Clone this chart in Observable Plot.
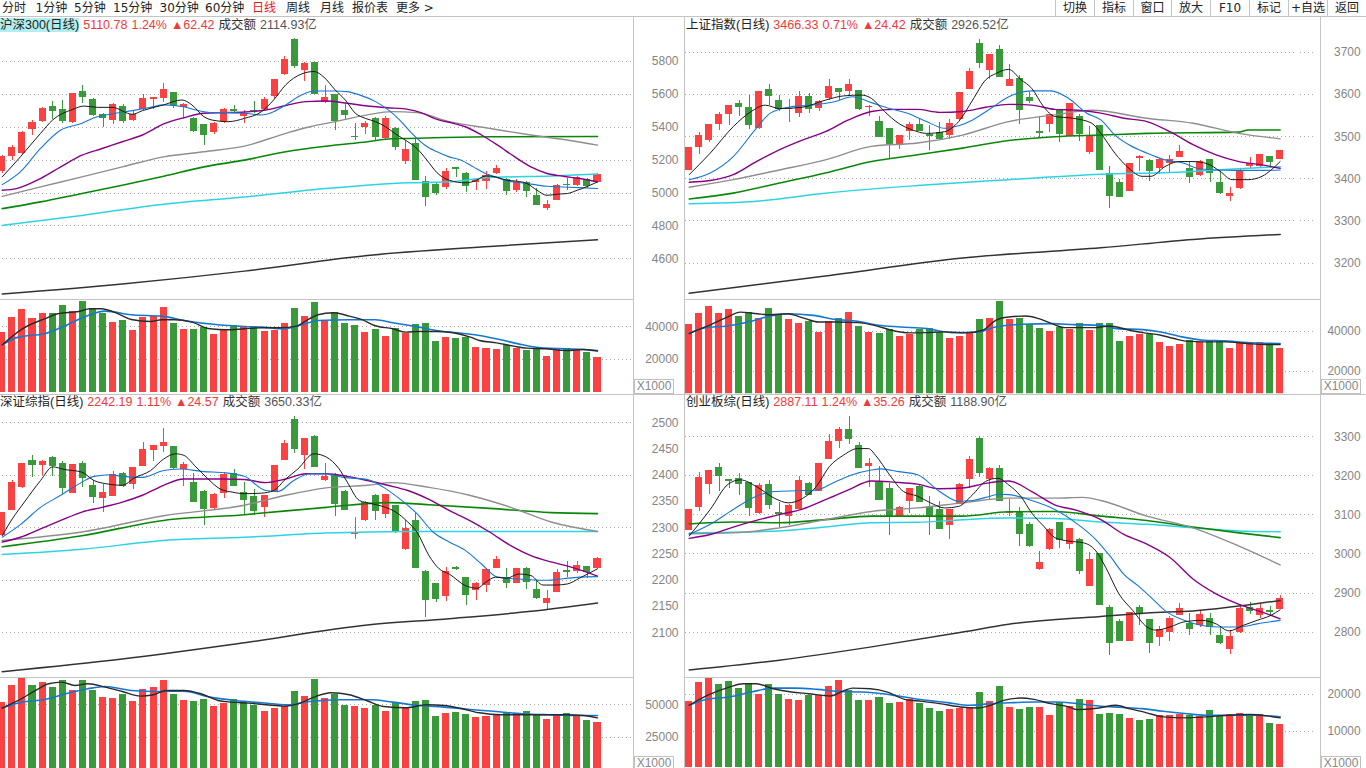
<!DOCTYPE html>
<html><head><meta charset="utf-8">
<script src="https://cdn.jsdelivr.net/npm/d3@7"></script>
<script src="https://cdn.jsdelivr.net/npm/@observablehq/plot@0.6"></script>
<style>
html,body{margin:0;padding:0;background:#fff;}
body{width:1366px;height:768px;overflow:hidden;position:relative;font-family:"DejaVu Sans","Noto Sans CJK SC",sans-serif;}
.t{position:absolute;font-size:12px;line-height:14px;white-space:nowrap;color:#222;}
.hd{position:absolute;font-size:12.5px;line-height:15px;white-space:nowrap;font-family:"Liberation Sans","Noto Sans CJK SC",sans-serif;}
.hd span{margin-right:4px;}
.ln{position:absolute;background:#c4c4c4;}
.btn{position:absolute;top:0;height:16px;font-size:12px;line-height:16px;text-align:center;color:#222;}
.xk{position:absolute;width:38px;height:13px;border:1px solid #c0c0c0;font:12px/13px "Liberation Sans",Arial,sans-serif;color:#888;text-align:center;background:#fff;}
.wrap{position:absolute;}
</style></head><body>
<script>
// ---------------- data ----------------
const TITLES = ["沪深300(日线)","上证指数(日线)","深证综指(日线)","创业板综(日线)"];
const PRICES = ["5110.78","3466.33","2242.19","2887.11"];
const PCTS = ["1.24%","0.71%","1.11%","1.24%"];
const CHANGES = ["▲62.42","▲24.42","▲24.57","▲35.26"];
const AMOUNT_LABEL = "成交额";
const AMOUNTS = ["2114.93亿","2926.52亿","3650.33亿","1188.90亿"];
const TOOLBAR = ["分时","1分钟","5分钟","15分钟","30分钟","60分钟","日线","周线","月线","报价表","更多 >"];
const BUTTONS = ["切换","指标","窗口","放大","F10","标记","+自选","返回"];
const UNIT = "X1000";

// 沪深300
const hsOpen = [5129,5220,5241,5389,5434,5529,5509,5428,5617,5566,5475,5444,5529,5444,5505,5566,5572,5611,5519,5454,5418,5369,5434,5509,5464,5501,5509,5590,5719,5932,5743,5794,5552,5597,5501,5346,5399,5454,5332,5393,5190,5302,5068,5054,5031,5157,5119,5064,5068,5119,5082,5013,5062,4986,4905,4956,5054,5047,5084,5064];
const hsHigh = [5230,5291,5377,5444,5519,5556,5562,5607,5652,5572,5485,5546,5536,5495,5597,5580,5668,5611,5546,5460,5418,5428,5515,5531,5501,5556,5580,5692,5831,5938,5794,5794,5652,5597,5536,5420,5434,5458,5464,5397,5312,5332,5098,5058,5149,5157,5123,5088,5129,5165,5088,5082,5068,5027,4956,5053,5088,5098,5088,5119];
const hsLow = [5119,5200,5237,5352,5430,5448,5420,5424,5546,5464,5399,5418,5420,5434,5501,5505,5550,5515,5460,5367,5292,5353,5424,5485,5424,5481,5501,5566,5713,5755,5678,5603,5546,5383,5450,5322,5353,5316,5326,5261,5176,5084,4919,4986,5021,5094,5001,5013,5023,5115,4986,5001,4972,4925,4891,4956,5017,5037,5027,5064];
const hsClose = [5220,5275,5371,5428,5515,5501,5444,5603,5586,5475,5460,5536,5444,5479,5572,5580,5631,5540,5536,5383,5357,5424,5505,5501,5481,5493,5570,5692,5814,5776,5788,5607,5580,5444,5475,5342,5424,5346,5454,5285,5267,5084,4976,5003,5133,5151,5043,5082,5108,5149,5013,5062,5013,4931,4931,5047,5050,5094,5048.36,5110.78];
const hsVol = [36734,45715,50613,45102,48164,48164,53062,49389,55512,51021,48164,42653,43878,37755,45715,46327,51838,42041,38367,38367,39592,35306,38367,40816,39592,40204,37143,37755,42041,51225,46327,54899,43266,48776,42041,40816,36530,38367,34081,38980,35918,41429,42041,31020,33469,32857,33469,27346,26734,26122,28571,26939,25510,26530,21837,26939,26530,25510,24285,21224];
const hsMa5 = [[0,5098],[1.8,5220],[3.8,5363],[5,5444],[7,5509],[8.1,5529],[9.5,5521],[10.9,5521],[12.9,5479],[13.9,5501],[16,5536],[17.8,5566],[18.8,5536],[20,5464],[20.8,5444],[22.4,5434],[24,5454],[25.7,5495],[26.9,5566],[28.1,5658],[29.7,5725],[30.9,5739],[31.9,5704],[33,5627],[34,5566],[35,5485],[36,5454],[37,5434],[38,5403],[39,5359],[40.2,5312],[41.1,5271],[42.1,5200],[43.1,5123],[44.3,5078],[45.9,5062],[46.9,5074],[47.9,5104],[48.9,5098],[50,5078],[51,5072],[52,5058],[53,5017],[54,4986],[55,4993],[56,4997],[57,5017],[58.1,5043],[59,5068]];
const hsMa10 = [[0,5051],[1.8,5129],[3.8,5271],[5.8,5383],[7.9,5424],[9.1,5458],[10.9,5481],[12.9,5501],[14.7,5521],[16,5536],[18,5525],[19.2,5505],[20.8,5489],[22.4,5489],[24,5485],[25.7,5475],[26.9,5495],[28.1,5536],[29.7,5597],[30.9,5621],[33,5621],[34.2,5617],[35.4,5597],[37,5556],[38.2,5509],[39.4,5444],[40.6,5363],[41.9,5291],[43.1,5251],[44.3,5220],[45.5,5200],[46.7,5159],[47.9,5119],[48.9,5098],[50,5074],[51.2,5064],[52.4,5054],[54,5041],[55.6,5037],[57.2,5033],[59,5027]];
const hsMa20 = [[0,5017],[1.4,5027],[3.8,5088],[5.8,5159],[7.9,5230],[9.9,5271],[11.9,5312],[13.9,5353],[16,5420],[18,5458],[20,5485],[22,5489],[24,5493],[26.1,5505],[28.1,5532],[30.1,5556],[32.1,5560],[34.2,5546],[36.2,5529],[38.2,5519],[40.2,5509],[41.5,5489],[43.1,5448],[44.7,5424],[45.9,5403],[47.5,5353],[49.1,5291],[50.8,5220],[52.4,5159],[54,5119],[55.6,5102],[57.2,5088],[59,5068]];
const hsMa30 = [[0,4980],[3.8,5037],[7.9,5098],[11.9,5159],[16,5220],[20,5251],[24,5285],[28.1,5363],[30.5,5403],[33,5434],[36.2,5475],[38.6,5495],[41.1,5489],[44.3,5434],[48.3,5393],[52.4,5353],[56.4,5318],[59,5291]];
const hsMa60 = [[0,4905],[3.8,4946],[7.9,4997],[11.9,5047],[16,5102],[20,5159],[24,5200],[28.1,5251],[32.1,5285],[36.2,5312],[38.6,5330],[40.2,5332],[48.3,5342],[59,5344]];
const hsMa120 = [[0,4803],[7.9,4864],[16,4932],[24,4976],[32.1,5027],[40.2,5062],[44.3,5068],[48.3,5094],[54.4,5104],[59,5115]];
const hsMa250 = [[0,4386],[11.9,4447],[24,4525],[36.2,4620],[48.3,4675],[59,4716]];
const hsVolMa5 = [[0,28979],[2,38775],[4.2,44898],[5.5,47960],[7.6,49389],[8.7,51021],[9.8,51021],[11.5,47960],[12.8,44490],[14.7,43266],[15.8,44286],[17.1,44286],[18.8,42857],[20.6,38775],[22.3,38163],[24,38775],[25.7,39388],[27.5,39388],[29.2,40408],[30,43266],[31.3,47348],[32.8,48572],[34.4,46531],[35.6,44490],[36.9,40816],[38.7,38775],[40,36734],[41.3,37143],[43,37143],[44.7,36326],[46.4,33673],[47.3,31632],[49,30203],[50.7,28163],[52,26939],[53.8,26530],[56,25510],[57.6,26122],[59,25102]];
const hsVolMa10 = [[0,28979],[1.6,33673],[4.2,35714],[6.3,40816],[8.5,46939],[10.2,49593],[12.8,47348],[15.8,46531],[18,43878],[21.4,41225],[24,40204],[25.7,39796],[27.9,38775],[30,41837],[31.3,43878],[34.4,44286],[37,44286],[38.7,42449],[41.3,39796],[43,37755],[45.1,36326],[47.3,34694],[49.4,32041],[51.6,28979],[53.8,26939],[56,26530],[59,25510]];

// 上证指数
const shOpen = [3420,3474,3492,3530,3552,3578,3570,3520,3612,3585,3565,3556,3595,3567,3591,3615,3607,3609,3570,3536,3520,3481,3512,3530,3505,3510,3504,3540,3613,3721,3657,3708,3619,3638,3593,3513,3530,3565,3500,3548,3462,3526,3413,3392,3370,3449,3443,3425,3436,3451,3425,3407,3445,3392,3357,3376,3429,3429,3453,3445];
const shHigh = [3475,3511,3528,3557,3575,3587,3597,3608,3623,3597,3589,3608,3603,3587,3636,3615,3636,3611,3575,3549,3520,3504,3533,3544,3526,3535,3542,3605,3662,3732,3696,3717,3672,3646,3606,3548,3552,3565,3578,3552,3524,3526,3429,3398,3436,3455,3445,3449,3455,3478,3439,3443,3445,3418,3380,3422,3451,3457,3453,3468];
const shLow = [3420,3457,3486,3515,3526,3548,3518,3518,3575,3560,3534,3545,3555,3559,3587,3587,3595,3563,3548,3498,3448,3470,3491,3516,3467,3494,3494,3536,3613,3662,3636,3642,3619,3530,3578,3499,3511,3486,3500,3489,3457,3421,3329,3356,3370,3417,3394,3410,3412,3451,3390,3405,3392,3363,3347,3374,3424,3425,3425,3445];
const shClose = [3474,3502,3528,3552,3575,3571,3530,3608,3599,3567,3567,3595,3567,3583,3620,3607,3624,3567,3573,3500,3483,3504,3530,3516,3504,3496,3532,3605,3656,3676,3696,3642,3637,3564,3586,3511,3552,3508,3578,3507,3502,3421,3361,3358,3436,3453,3420,3447,3445,3465,3406,3441,3414,3368,3365,3418,3437,3457,3441.91,3466.33];
const shVol = [43471,48926,52397,48926,50910,47438,49422,46447,51405,48430,45951,43967,44959,39504,44959,46447,49422,42480,39504,39008,40992,37521,38512,40992,41488,39504,36529,37521,39504,45951,46447,54877,45951,46447,43471,41488,40000,41984,40992,43967,40496,43967,43967,35041,37521,38512,38512,34545,32562,33553,35537,34545,35537,35537,31570,34049,34545,34545,33553,31570];
const shMa5 = [[0,3410],[2.1,3461],[4.4,3524],[6.2,3560],[7.6,3575],[9,3567],[11.3,3570],[13.6,3587],[15.4,3597],[17.2,3599],[18.2,3591],[19.5,3560],[20.9,3532],[22.3,3516],[23.7,3508],[25.5,3512],[26.9,3536],[28.3,3587],[29.6,3635],[30.6,3650],[31.9,3660],[33.1,3636],[34.2,3615],[35.4,3571],[36.5,3548],[38.3,3544],[40.2,3532],[41.1,3508],[42.5,3461],[43.9,3425],[45.2,3406],[46.1,3406],[47.5,3429],[48.9,3441],[50.3,3441],[51.7,3436],[53,3418],[54.2,3398],[55.8,3398],[57.2,3406],[58.1,3421],[59,3441]];
const shMa10 = [[0,3398],[2.1,3414],[4.4,3453],[6.7,3520],[8.1,3556],[9.9,3570],[12.2,3575],[14.5,3583],[16.3,3595],[18.2,3581],[20,3567],[21.8,3556],[23.7,3536],[25.5,3520],[26.9,3526],[28.3,3540],[30.1,3567],[31.9,3595],[34.2,3609],[36.1,3609],[37.9,3591],[39.7,3556],[41.1,3540],[42.5,3504],[43.9,3481],[45.7,3461],[47.5,3445],[49.4,3437],[50.7,3425],[52.6,3421],[54.4,3420],[56.7,3420],[59,3421]];
const shMa20 = [[0,3392],[2.1,3396],[4.4,3410],[6.7,3441],[9,3469],[11.3,3492],[13.6,3512],[15.9,3540],[18.2,3560],[20.5,3565],[22.8,3565],[25,3558],[27.3,3560],[29.6,3570],[31.9,3577],[34.2,3575],[36.5,3565],[38.8,3563],[41.1,3556],[43.4,3544],[45.7,3536],[48,3512],[50.3,3481],[52.6,3457],[54.9,3441],[57.2,3433],[59,3425]];
const shMa30 = [[0,3380],[4.4,3398],[9,3421],[13.6,3445],[18.2,3477],[22.8,3485],[27.3,3504],[31.9,3536],[36.5,3552],[40.2,3563],[45.7,3544],[50.3,3532],[54.9,3508],[59,3495]];
const shMa60 = [[0,3352],[4.4,3366],[9,3390],[13.6,3414],[18.2,3441],[22.8,3457],[27.3,3473],[31.9,3491],[36.5,3500],[41.1,3504],[45.7,3508],[54.9,3511],[55.8,3516],[59,3516]];
const shMa120 = [[0,3341],[6.7,3347],[13.6,3366],[22.8,3384],[31.9,3398],[41.1,3411],[48,3415],[54.9,3424],[59,3429]];
const shMa250 = [[0,3128],[13.6,3169],[27.3,3212],[41.1,3236],[50.3,3256],[59,3268]];
const shVolMa5 = [[0,38843],[1.6,42149],[3.8,47108],[5.1,49587],[6.8,48761],[8.1,48265],[9.8,48761],[11.6,46281],[12.9,44628],[14.6,44628],[16.8,44298],[18.5,42976],[20.2,40496],[22,39174],[23.7,39339],[25.4,39670],[27.6,39174],[29.3,40496],[30.6,45455],[31.9,47108],[33.6,47604],[34.9,46281],[36.2,43802],[37.5,41818],[38.8,41818],[40.6,41818],[41.9,42645],[42.7,42149],[44,40496],[45.3,39339],[47.1,38017],[48.4,36364],[49.7,35041],[51.4,34711],[53.5,34711],[55.7,33884],[57.4,33388],[59,33388]];
const shVolMa10 = [[0,38843],[1.6,41818],[3.8,42645],[5.9,44628],[8.1,47604],[9.8,48761],[12.4,47934],[14.6,45951],[16.8,44959],[18.9,42976],[21.1,42149],[23.7,41322],[26.3,39339],[28.9,39670],[30.6,42149],[33.2,43471],[36.2,43802],[38.4,43306],[41,42976],[42.7,41322],[45.3,40826],[47.1,39670],[49.2,37190],[51.4,35537],[53.5,35207],[55.7,34380],[59,33884]];

// 深证综指
const szOpen = [2285,2333,2377,2428,2419,2433,2422,2366,2422,2381,2355,2360,2403,2382,2416,2447,2454,2454,2412,2386,2369,2336,2366,2403,2368,2360,2339,2370,2428,2506,2438,2473,2390,2401,2369,2287,2314,2362,2325,2343,2259,2314,2216,2193,2170,2224,2206,2181,2190,2222,2206,2193,2223,2183,2155,2176,2219,2216,2226,2222];
const szHigh = [2329,2390,2422,2438,2428,2436,2426,2420,2426,2391,2382,2407,2405,2414,2463,2457,2489,2454,2425,2403,2371,2365,2405,2411,2386,2373,2362,2419,2466,2512,2470,2476,2422,2403,2371,2319,2350,2363,2363,2343,2314,2327,2219,2193,2225,2226,2206,2196,2223,2246,2223,2223,2225,2200,2181,2221,2235,2236,2226,2244];
const szLow = [2285,2333,2375,2395,2400,2398,2363,2366,2377,2346,2330,2360,2376,2373,2416,2426,2443,2411,2379,2350,2304,2333,2355,2381,2323,2323,2320,2368,2428,2441,2411,2417,2389,2322,2333,2278,2312,2314,2317,2289,2257,2225,2130,2158,2160,2219,2152,2162,2177,2222,2184,2193,2182,2163,2144,2176,2206,2213,2203,2222];
const szClose = [2329,2386,2422,2421,2426,2419,2376,2420,2395,2360,2367,2401,2381,2414,2449,2457,2463,2414,2421,2350,2336,2363,2402,2381,2354,2333,2362,2419,2460,2452,2470,2417,2397,2347,2335,2292,2349,2333,2363,2295,2299,2225,2163,2166,2217,2222,2173,2193,2220,2240,2195,2223,2198,2168,2165,2214,2217,2228,2217.62,2242.19];
const szVol = [52041,64796,70408,64796,67347,63265,68622,60969,68622,60969,55612,54847,57908,52551,61735,63265,68622,57908,53316,52551,54082,48724,51020,54082,52551,49490,44898,47194,48724,60204,56378,69388,54847,57908,49490,48724,47194,49490,44898,51020,47959,52551,53316,41071,43367,44133,42602,40306,41071,42602,43367,43367,44898,42602,38776,41837,43367,41837,38010,36480];
const szMa5 = [[0,2285],[1,2317],[2.2,2349],[3.8,2390],[5,2416],[6.2,2411],[7.9,2406],[9.1,2390],[10.3,2384],[11.9,2381],[13.1,2395],[14.7,2409],[16,2431],[17.2,2441],[18,2438],[19.2,2416],[20.4,2393],[21.6,2374],[22.8,2368],[24,2365],[25.7,2366],[26.9,2371],[28.1,2393],[29.3,2412],[30.9,2441],[32.1,2435],[33.4,2412],[34.2,2387],[35.4,2352],[36.6,2346],[38,2339],[39,2330],[40.2,2311],[41.1,2292],[42.3,2247],[43.3,2222],[44.3,2212],[45.9,2190],[47.1,2185],[47.9,2196],[48.9,2206],[50,2204],[51.2,2212],[52.4,2209],[53.6,2191],[54.8,2191],[56,2193],[57.2,2204],[59,2222]];
const szMa10 = [[0,2282],[1.8,2306],[3.8,2339],[5.8,2362],[7.9,2387],[9.1,2398],[10.7,2401],[11.9,2398],[13.9,2396],[16,2409],[17.6,2412],[20,2407],[22,2405],[24,2398],[26.1,2371],[27.3,2369],[28.9,2390],[30.5,2403],[32.1,2403],[33.8,2396],[36.2,2392],[37.8,2377],[39.4,2355],[41.1,2327],[42.7,2292],[44.3,2273],[45.9,2257],[47.5,2231],[49.1,2206],[50.8,2203],[52.4,2201],[54,2200],[55.6,2203],[57.2,2206],[59,2207]];
const szMa20 = [[0,2273],[1.8,2282],[3.8,2298],[5.8,2314],[7.9,2330],[9.9,2339],[11.9,2349],[13.9,2362],[16,2381],[18,2393],[20,2393],[22,2393],[24,2392],[26.1,2386],[28.1,2393],[30.1,2403],[32.1,2403],[34.2,2398],[36.2,2390],[38.2,2381],[40.2,2371],[42.3,2354],[44.3,2333],[46.3,2314],[48.3,2292],[50.4,2266],[52.4,2247],[54.4,2235],[56.4,2225],[59,2208]];
const szMa30 = [[0,2276],[7.9,2292],[16,2323],[24,2343],[28.1,2362],[32.1,2376],[36.2,2381],[38.6,2386],[42.3,2377],[46.3,2362],[50.4,2339],[54.4,2311],[59,2293]];
const szMa60 = [[0,2264],[7.9,2285],[16,2314],[24,2325],[32.1,2339],[38.2,2348],[42.3,2344],[48.3,2337],[54.4,2329],[59,2327]];
const szMa120 = [[0,2249],[7.9,2259],[16,2276],[24,2282],[32.1,2290],[40.2,2293],[59,2293]];
const szMa250 = [[0,2026],[11.9,2050],[24,2081],[36.2,2115],[44.3,2127],[52.4,2141],[59,2157]];
const szVolMa5 = [[0,47449],[1.6,53316],[3.3,60969],[4.6,66071],[5.9,67347],[7.2,64796],[8.5,66071],[10.2,63520],[11.9,60204],[13.7,56633],[15,57653],[16.3,60969],[18,60969],[19.7,58418],[21.4,53316],[22.7,52041],[24.4,51276],[26.2,50000],[27.9,48980],[29.6,51531],[30.9,55867],[32.6,59184],[34.4,57653],[36.1,53316],[37.8,48724],[40,47704],[42.1,50000],[43.8,49490],[45.6,46939],[47.3,43878],[49.4,42347],[51.6,42347],[53.8,42347],[55.9,42347],[57.6,41837],[59,40051]];
const szVolMa10 = [[0,47704],[2,52041],[4.2,54082],[6.3,58418],[8.5,62245],[10.2,64031],[12.8,60969],[15.4,60204],[18,60459],[20.6,55867],[23.1,53316],[25.7,51531],[28.3,50000],[30.5,52551],[33.5,53827],[36.5,53827],[38.7,52041],[41.3,49490],[43.8,48214],[46.4,46429],[49,44898],[51.6,43112],[54.2,42347],[56.8,41837],[59,41837]];

// 创业板综
const cyOpen = [3059,3120,3179,3221,3190,3194,3184,3105,3177,3106,3097,3114,3181,3160,3241,3287,3319,3279,3225,3184,3169,3097,3135,3172,3120,3114,3074,3128,3190,3296,3192,3218,3104,3108,3076,2961,3012,3081,3025,3037,2916,3001,2864,2828,2775,2862,2832,2786,2800,2843,2821,2817,2834,2792,2755,2798,2864,2843,2855,2857];
const cyHigh = [3114,3209,3215,3232,3192,3207,3184,3181,3187,3131,3128,3198,3184,3232,3306,3325,3353,3285,3245,3224,3181,3122,3167,3178,3148,3135,3114,3181,3251,3300,3222,3226,3139,3120,3080,3006,3066,3081,3065,3040,3004,3001,2868,2832,2851,2868,2832,2815,2840,2872,2847,2855,2847,2813,2805,2871,2876,2874,2866,2893];
const cyLow = [3059,3109,3153,3160,3169,3150,3097,3102,3114,3067,3074,3114,3150,3160,3241,3270,3281,3218,3170,3139,3048,3097,3103,3135,3048,3063,3036,3128,3167,3196,3139,3137,3097,3020,3016,2958,3010,3015,3012,2948,2916,2868,2741,2775,2775,2816,2744,2762,2775,2843,2792,2811,2792,2769,2743,2796,2845,2834,2843,2857];
const cyClose = [3114,3197,3213,3201,3189,3181,3118,3175,3128,3104,3125,3187,3152,3232,3289,3319,3297,3221,3232,3139,3097,3120,3167,3135,3097,3065,3114,3179,3241,3209,3218,3137,3108,3052,3023,2978,3063,3037,3065,2957,2985,2871,2772,2779,2849,2851,2772,2806,2834,2860,2809,2845,2813,2772,2788,2860,2854,2860,2851.85,2887.11];
const cyVol = [18108,23243,24324,22703,23514,21622,22703,20000,22703,20000,18649,18378,19730,19730,22162,23784,21081,18378,18378,19189,17568,17838,18649,17568,16216,15405,15946,16216,16216,20541,18108,22162,16486,15946,16486,16486,14324,17838,16757,18649,18378,14595,14865,14595,13514,12973,13243,14144,14324,14595,14324,14054,15676,14324,14595,14775,14054,14505,12162,11892];
const cyMa5 = [[0,3046],[2.1,3114],[3.9,3179],[5.1,3190],[6.7,3173],[8.5,3143],[9.9,3131],[11.3,3142],[12.7,3173],[14,3224],[15.4,3253],[16.8,3270],[17.9,3270],[18.6,3253],[20,3203],[21.4,3160],[22.8,3148],[24.1,3131],[25.5,3118],[26.9,3122],[28.3,3152],[29.6,3186],[30.8,3194],[31.9,3177],[33.1,3148],[34.2,3105],[35.4,3071],[36.5,3042],[37.9,3033],[39.3,3029],[40.6,3008],[41.6,2965],[42.9,2898],[44.3,2855],[45.7,2813],[46.6,2805],[48,2813],[49.4,2826],[51.2,2830],[52.6,2821],[53.9,2803],[55.3,2817],[56.7,2830],[58.1,2843],[59,2857]];
const cyMa10 = [[0,3050],[2.1,3076],[4.4,3114],[6.7,3148],[8.5,3160],[10.8,3162],[12.7,3164],[14.5,3184],[16.3,3203],[18.2,3215],[19.1,3218],[20.9,3211],[22.8,3203],[25,3160],[26.9,3135],[28.3,3137],[29.6,3145],[31,3153],[31.9,3152],[34.2,3137],[36.5,3114],[38.8,3076],[40.6,3037],[42,2995],[43.4,2948],[44.8,2919],[46.1,2889],[47.5,2855],[49.4,2830],[51.2,2817],[53,2813],[54.9,2813],[56.7,2821],[59,2830]];
const cyMa20 = [[0,3040],[2.1,3050],[4.4,3069],[6.7,3086],[9,3101],[11.3,3115],[13.6,3139],[15.9,3164],[18.2,3187],[20.5,3184],[22.8,3179],[25,3167],[27.3,3169],[29.6,3181],[31.9,3187],[34.2,3160],[36.5,3126],[38.8,3111],[41.1,3088],[43.4,3050],[45.7,3025],[48,2991],[50.3,2936],[52.6,2898],[54.9,2871],[57.2,2851],[59,2834]];
const cyMa30 = [[0,3052],[4.4,3054],[9,3067],[13.6,3088],[18.2,3109],[22.8,3118],[27.3,3131],[31.9,3143],[36.5,3143],[39.3,3145],[41.1,3137],[45.7,3097],[50.3,3067],[54.9,3020],[59,2972]];
const cyMa60 = [[0,3077],[4.4,3082],[9,3080],[13.6,3088],[18.2,3097],[22.8,3097],[27.3,3097],[31.9,3108],[36.5,3109],[41.1,3097],[45.7,3086],[50.3,3069],[54.9,3054],[59,3042]];
const cyMa120 = [[0,3054],[9,3059],[13.6,3069],[18.2,3080],[22.8,3081],[27.3,3088],[31.9,3092],[36.5,3091],[41.1,3082],[45.7,3076],[50.3,3067],[54.9,3059],[59,3057]];
const cyMa250 = [[0,2703],[9,2728],[18.2,2762],[27.3,2800],[31.9,2820],[41.1,2840],[45.7,2849],[50.3,2854],[59,2881]];
const cyVolMa5 = [[0,17027],[1.8,19730],[4,21982],[5.4,22883],[6.7,22883],[8.4,21532],[10.2,20631],[11.9,20180],[14.1,19550],[15.5,21081],[16.3,21712],[18.1,21532],[19.8,20631],[21.5,18649],[23.2,18108],[25,17477],[27.1,16577],[28.8,16306],[30.1,17027],[31.4,18378],[33.1,19009],[34.4,18649],[36.1,17477],[37.9,16577],[38.7,15856],[40.9,16306],[42.6,17027],[43.9,16126],[45.6,15045],[47.3,13874],[49.5,13604],[51.6,13874],[53.8,14324],[56,14505],[57.7,14144],[59,13604]];
const cyVolMa10 = [[0,17027],[1.8,18649],[4,19279],[6.2,20631],[8.4,21712],[10.6,21712],[12.8,21352],[14.9,20811],[17.2,20631],[19.3,20180],[21.5,19279],[23.7,18378],[25.8,17748],[28,17027],[30.1,17477],[32.3,17748],[34.4,17928],[36.6,17928],[38.7,17477],[40.9,16847],[43,16486],[45.2,16126],[47.3,15405],[49.5,14775],[51.6,14324],[53.8,14324],[56,14324],[59,13874]];

// axis ticks
const hsGrid = [5800,5600,5400,5200,5000,4800,4600];
const shGrid = [3700,3600,3500,3400,3300,3200];
const szLabels = [2500,2450,2400,2350,2300,2250,2200,2150,2100];
const szGrid = [2500,2400,2300,2200,2100];
const cyGrid = [3300,3200,3100,3000,2900,2800];
const hsVolTicks = [40000,20000];
const shVolTicks = [40000,20000];
const szVolTicks = [50000,25000];
const cyVolTicks = [20000,10000];

// ---------------- drawing ----------------
const RED = "#fa4242", GREEN = "#3a993a";
const C = {ma5:"#1a1a1a", ma10:"#1677d2", ma20:"#880088", ma30:"#8e8e8e", ma60:"#0a870a", ma120:"#2cd3e3", ma250:"#333333"};
const X_DOMAIN = [-0.367, 62.566];
const SVG_W = 686, MR = 51;

function rowsOf(open, high, low, close) {
  return open.map((o, i) => ({i, o, h: high[i], l: low[i], c: close[i], col: close[i] >= o ? RED : GREEN}));
}
function lineMarks(specs) {
  return specs.map(([pts, stroke, w]) => Plot.line(pts, {x: d => d[0], y: d => d[1], stroke, strokeWidth: w, curve: "monotone-x", clip: true}));
}
function base(height, yDomain, marks) {
  return Plot.plot({
    width: SVG_W, height, marginTop: 0, marginBottom: 0, marginLeft: 0, marginRight: MR,
    x: {domain: X_DOMAIN, axis: null},
    y: {domain: yDomain, axis: null},
    color: {type: "identity"},
    style: {background: "transparent", fontFamily: "Liberation Sans, Arial, sans-serif", overflow: "visible"},
    marks
  });
}
function axisMarks(grid, labels) {
  return [
    Plot.ruleY(grid, {stroke: "#a8a8a8", strokeDasharray: "1,3", shapeRendering: "crispEdges"}),
    Plot.axisY(labels, {anchor: "right", tickSize: 0, tickPadding: 0, dx: 45, textAnchor: "end", fill: "#858585", fontSize: 12, tickFormat: d => String(d), label: null})
  ];
}
function pricePlot(rows, height, yDomain, grid, labels, mas) {
  return base(height, yDomain, [
    ...axisMarks(grid, labels),
    Plot.ruleX(rows, {x: "i", y1: "l", y2: "h", stroke: "col", shapeRendering: "crispEdges", clip: true}),
    Plot.rect(rows, {x1: d => d.i - 0.35, x2: d => d.i + 0.35, y1: "o", y2: "c", fill: "col", shapeRendering: "crispEdges", clip: true}),
    Plot.ruleY(rows, {x1: d => d.i - 0.35, x2: d => d.i + 0.35, y: "c", stroke: "col", shapeRendering: "crispEdges", clip: true}),
    ...lineMarks(mas)
  ]);
}
function volPlot(rows, vol, height, yDomain, ticks, ma5, ma10) {
  const vr = rows.map((r, k) => ({i: r.i, v: vol[k], col: r.col}));
  return base(height, yDomain, [
    ...axisMarks(ticks, ticks),
    Plot.rect(vr, {x1: d => d.i - 0.35, x2: d => d.i + 0.35, y1: 0, y2: "v", fill: "col", shapeRendering: "crispEdges", clip: true}),
    ...lineMarks([[ma10, C.ma10, 1.6], [ma5, "#2a2a2a", 1.4]])
  ]);
}
function mount(node, left, top) {
  const d = document.createElement("div");
  d.className = "wrap";
  d.style.left = left + "px"; d.style.top = top + "px";
  d.appendChild(node);
  document.body.appendChild(d);
}
function maSet(m5, m10, m20, m30, m60, m120, m250) {
  return [[m250, C.ma250, 1.5], [m120, C.ma120, 1.5], [m60, C.ma60, 1.6], [m30, C.ma30, 1.4], [m20, C.ma20, 1.4], [m10, C.ma10, 1.1], [m5, C.ma5, 1]];
}

const LEFT = [-2.5, 685];
const hsRows = rowsOf(hsOpen, hsHigh, hsLow, hsClose);
const shRows = rowsOf(shOpen, shHigh, shLow, shClose);
const szRows = rowsOf(szOpen, szHigh, szLow, szClose);
const cyRows = rowsOf(cyOpen, cyHigh, cyLow, cyClose);

mount(pricePlot(hsRows, 282, [4352.4, 6067.6], hsGrid, hsGrid, maSet(hsMa5, hsMa10, hsMa20, hsMa30, hsMa60, hsMa120, hsMa250)), LEFT[0], 17);
mount(volPlot(hsRows, hsVol, 95, [-1407, 56697], hsVolTicks, hsVolMa5, hsVolMa10), LEFT[0], 299);
mount(pricePlot(shRows, 282, [3118.2, 3783.3], shGrid, shGrid, maSet(shMa5, shMa10, shMa20, shMa30, shMa60, shMa120, shMa250)), LEFT[1], 17);
mount(volPlot(shRows, shVol, 95, [8734, 55881], shVolTicks, shVolMa5, shVolMa10), LEFT[1], 299);
mount(pricePlot(szRows, 283, [2014.9, 2553.9], szGrid, szLabels, maSet(szMa5, szMa10, szMa20, szMa30, szMa60, szMa120, szMa250)), LEFT[0], 394);
mount(volPlot(szRows, szVol, 91, [1302, 70871], szVolTicks, szVolMa5, szVolMa10), LEFT[0], 677);
mount(pricePlot(cyRows, 283, [2688.9, 3408.6], cyGrid, cyGrid, maSet(cyMa5, cyMa10, cyMa20, cyMa30, cyMa60, cyMa120, cyMa250)), LEFT[1], 394);
mount(volPlot(cyRows, cyVol, 91, [0, 24595], cyVolTicks, cyVolMa5, cyVolMa10), LEFT[1], 677);

// ---------------- frame, text ----------------
function el(cls, css, text) {
  const d = document.createElement("div");
  d.className = cls; d.style.cssText = css;
  if (text != null) d.textContent = text;
  document.body.appendChild(d);
  return d;
}
el("ln", "left:0;top:16px;width:1366px;height:1px;");
[633, 684, 1320].forEach(x => el("ln", `left:${x}px;top:17px;width:1px;height:751px;`));
el("ln", "left:0;top:299px;width:633px;height:1px;");
el("ln", "left:684px;top:299px;width:636px;height:1px;");
el("ln", "left:0;top:394px;width:1366px;height:1px;");
el("ln", "left:0;top:677px;width:633px;height:1px;");
el("ln", "left:684px;top:677px;width:636px;height:1px;");
[[634, 379], [1321, 379], [634, 756], [1321, 756]].forEach(([x, y]) => el("xk", `left:${x}px;top:${y}px;`, UNIT));

// toolbar
const TB_X = [2, 35.5, 74, 113, 159.5, 205, 252, 286, 320, 352, 396];
TOOLBAR.forEach((s, k) => el("t", `left:${TB_X[k]}px;top:1px;color:${s === "日线" ? "#e8161b" : "#222"};`, s));
const BTN_E = [1055, 1094, 1133, 1171, 1210, 1249, 1288, 1327, 1366];
BUTTONS.forEach((s, k) => {
  el("btn", `left:${BTN_E[k] + 1}px;width:${BTN_E[k + 1] - BTN_E[k] - 1}px;`, s);
  el("ln", `left:${BTN_E[k]}px;top:0;width:1px;height:16px;`);
});

// headers (flow layout)
const HPOS = [[0, 18], [686, 18], [0, 395], [686, 395]];
TITLES.forEach((t, k) => {
  const h = el("hd", `left:${HPOS[k][0]}px;top:${HPOS[k][1]}px;`);
  const parts = [
    [t, "#222", k === 0 ? "#b2eeee" : null],
    [PRICES[k], "#f03a3a"], [PCTS[k], "#f03a3a"], [CHANGES[k], "#f03a3a"],
    [AMOUNT_LABEL, "#333"], [AMOUNTS[k], "#555"]
  ];
  parts.forEach(([s, col, bg]) => {
    const sp = document.createElement("span");
    sp.textContent = s; sp.style.color = col;
    if (bg) sp.style.background = bg;
    h.appendChild(sp);
  });
});
</script>
</body></html>
